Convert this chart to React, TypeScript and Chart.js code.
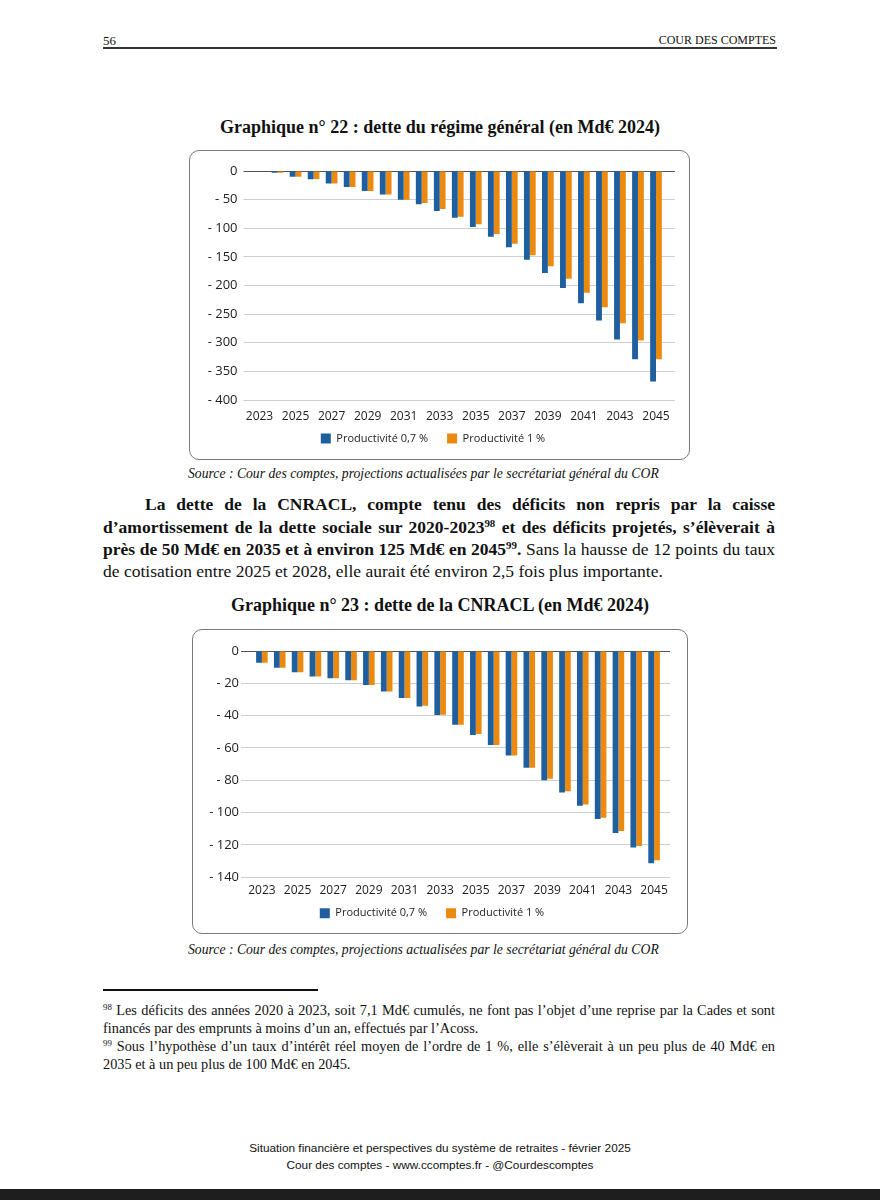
import React, { useEffect, useRef } from "react";
import { Chart, registerables } from "chart.js";

Chart.register(...registerables);

// ---------- DATA ----------
const years = [
  "2023", "2024", "2025", "2026", "2027", "2028", "2029", "2030", "2031", "2032", "2033", "2034",
  "2035", "2036", "2037", "2038", "2039", "2040", "2041", "2042", "2043", "2044", "2045",
];
const seriesNames = ["Productivité 0,7 %", "Productivité 1 %"];

// Graphique 22 : dette du régime général (Md€ 2024)
const regimeProd07 = [
  0, -3, -10, -14.5, -22, -28, -35, -41, -50, -58, -70, -81.5,
  -98, -115, -133, -155, -178, -204.5, -231, -261, -294.5, -329, -367.5,
];
const regimeProd1 = [
  0, -3, -10, -14, -22, -28, -35, -41, -50, -56, -66.5, -80,
  -93, -110, -127, -147, -166.5, -188, -212.5, -238, -266, -296, -329,
];
const regimeAxis = { min: -400, max: 0, step: 50 };

// Graphique 23 : dette de la CNRACL (Md€ 2024)
const cnraclProd07 = [
  -7.2, -10.3, -13.2, -15.7, -16.9, -18.1, -21, -25, -29, -34.4, -39.6, -45.6,
  -52, -58.1, -64.7, -72.2, -80, -87.6, -95.7, -103.9, -112.6, -121.6, -131.3,
];
const cnraclProd1 = [
  -7.2, -10.3, -13.2, -15.7, -16.9, -18.1, -21, -25, -29, -33.8, -39.4, -45.6,
  -51.3, -58.1, -64.7, -72.2, -79, -86.8, -95, -103.1, -111.3, -120.6, -129.5,
];
const cnraclAxis = { min: -140, max: 0, step: 20 };

// ---------- STYLE ----------
const BLUE = "#1f5f9e";
const ORANGE = "#ec890f";
const GRID = "#cfcfcf";
const ZERO = "#555555";
const TXT = "#222222";
const SANS = "'Open Sans', 'Noto Sans', sans-serif";
const SERIF = "'Liberation Serif', 'Times New Roman', serif";

type ChartProps = {
  left: number; top: number; width: number; height: number;
  a: number[]; b: number[];
  axis: { min: number; max: number; step: number };
  yWidth: number; leftTick: number; yPad: number; rightTick: number;
  padTop: number; padRight: number; padBottom: number;
  xHeight: number; xPad: number; legendPad: number;
};

function BarChart(p: ChartProps) {
  const ref = useRef<HTMLCanvasElement>(null);
  useEffect(() => {
    if (!ref.current) return;
    const gridColor = (ctx: any) => (ctx.tick && ctx.tick.value === 0 ? ZERO : GRID);
    const chart = new Chart(ref.current, {
      type: "bar",
      data: {
        labels: years,
        datasets: [
          { label: seriesNames[0], data: p.a, backgroundColor: BLUE, borderWidth: 0, categoryPercentage: 0.65, barPercentage: 1, yAxisID: "y" },
          { label: seriesNames[1], data: p.b, backgroundColor: ORANGE, borderWidth: 0, categoryPercentage: 0.65, barPercentage: 1, yAxisID: "y" },
        ],
      },
      options: {
        responsive: false,
        maintainAspectRatio: false,
        animation: false,
        layout: { padding: { top: p.padTop, right: p.padRight, bottom: p.padBottom, left: 0 } },
        plugins: {
          tooltip: { enabled: false },
          legend: {
            position: "bottom",
            labels: {
              boxWidth: 10, boxHeight: 10, padding: p.legendPad, color: TXT,
              font: { family: SANS, size: 11 },
              generateLabels: (c: any) => {
                const items = (Chart.defaults.plugins.legend.labels as any).generateLabels(c);
                if (items.length) items[0].text = items[0].text + "\u2002\u2002";
                return items;
              },
            },
          },
        },
        scales: {
          x: {
            grid: { display: false, drawTicks: false },
            border: { display: false },
            ticks: {
              autoSkip: false, maxRotation: 0, minRotation: 0, padding: p.xPad, color: TXT,
              font: { family: SANS, size: 12 },
              callback: (_v: any, i: number) => (i % 2 === 0 ? years[i] : ""),
            },
            afterFit: (s: any) => { s.height = p.xHeight; },
          },
          y: {
            min: p.axis.min, max: p.axis.max,
            border: { display: false },
            grid: { color: gridColor, lineWidth: 1, drawTicks: true, tickLength: p.leftTick },
            ticks: {
              stepSize: p.axis.step, padding: p.yPad, color: TXT,
              font: { family: SANS, size: 13 },
              callback: (v: any) => (v === 0 ? "0" : "- " + Math.abs(v)),
            },
            afterFit: (s: any) => { s.width = p.yWidth; },
          },
          y2: {
            type: "linear", position: "right",
            min: p.axis.min, max: p.axis.max,
            border: { display: false },
            grid: { color: gridColor, drawOnChartArea: false, drawTicks: true, tickLength: p.rightTick },
            ticks: { stepSize: p.axis.step, display: false },
            afterFit: (s: any) => { s.width = p.rightTick; },
          },
        },
      } as any,
    });
    return () => chart.destroy();
  }, []);
  return (
    <canvas
      ref={ref}
      width={p.width}
      height={p.height}
      style={{ position: "absolute", left: p.left, top: p.top, width: p.width, height: p.height }}
    />
  );
}

const abs = (s: React.CSSProperties): React.CSSProperties => ({ position: "absolute", ...s });

function TextLine(props: {
  cy: number; left?: number; width?: number; size: number; h?: number;
  justify?: boolean; center?: boolean; right?: boolean; bold?: boolean; italic?: boolean;
  family?: string; indent?: number; children: React.ReactNode;
}) {
  const h = props.h ?? Math.round(props.size * 1.3);
  const st: React.CSSProperties = {
    top: props.cy - h / 2,
    height: h,
    lineHeight: h + "px",
    fontSize: props.size,
    fontFamily: props.family ?? SERIF,
    fontWeight: props.bold ? "bold" : "normal",
    fontStyle: props.italic ? "italic" : "normal",
    color: "#111",
    whiteSpace: "nowrap",
  };
  if (props.center) {
    st.left = 0; st.width = 880; st.textAlign = "center";
  } else if (props.right) {
    st.right = 880 - (props.left ?? 775); st.textAlign = "right";
  } else {
    st.left = props.left ?? 103;
    if (props.justify) {
      st.width = props.width ?? 672;
      st.textAlign = "justify";
      (st as any).textAlignLast = "justify";
      st.textIndent = props.indent ?? 0;
    }
  }
  return <div style={abs(st)}>{props.children}</div>;
}

const Sup = ({ children }: { children: React.ReactNode }) => (
  <sup style={{ fontSize: "0.62em", lineHeight: 0, verticalAlign: "0.55em" }}>{children}</sup>
);

export default function App() {
  return (
    <div style={abs({ left: 0, top: 0, width: 880, height: 1200, background: "#fff", overflow: "hidden" })}>
      {/* header */}
      <TextLine cy={40} left={103} size={13}>56</TextLine>
      <TextLine cy={40} right left={776} size={12}>COUR DES COMPTES</TextLine>
      <div style={abs({ left: 103, top: 47, width: 674, height: 2, background: "#333" })} />

      {/* chart 22 */}
      <TextLine cy={127} center bold size={18}>
        Graphique n° 22 : dette du régime général (en Md€ 2024)
      </TextLine>
      <div style={abs({ left: 189, top: 150, width: 501, height: 310, boxSizing: "border-box", border: "1.5px solid #7a7a7a", borderRadius: 10 })} />
      <BarChart
        left={191} top={152} width={497} height={306}
        a={regimeProd07} b={regimeProd1} axis={regimeAxis}
        yWidth={59.5} leftTick={7} yPad={6} rightTick={10}
        padTop={19} padRight={13} padBottom={4} xHeight={25} xPad={9} legendPad={8}
      />
      <TextLine cy={474} left={188} italic size={13.7}>
        Source : Cour des comptes, projections actualisées par le secrétariat général du COR
      </TextLine>

      {/* paragraph */}
      <TextLine cy={504} justify indent={42} bold size={17.5}>
        La dette de la CNRACL, compte tenu des déficits non repris par la caisse
      </TextLine>
      <TextLine cy={527} justify bold size={17.5}>
        d’amortissement de la dette sociale sur 2020-2023<Sup>98</Sup> et des déficits projetés, s’élèverait à
      </TextLine>
      <TextLine cy={549} justify size={17.5}>
        <b>près de 50 Md€ en 2035 et à environ 125 Md€ en 2045<Sup>99</Sup>.</b> Sans la hausse de 12 points du taux
      </TextLine>
      <TextLine cy={571} size={17.5}>
        de cotisation entre 2025 et 2028, elle aurait été environ 2,5 fois plus importante.
      </TextLine>

      {/* chart 23 */}
      <TextLine cy={605} center bold size={18}>
        Graphique n° 23 : dette de la CNRACL (en Md€ 2024)
      </TextLine>
      <div style={abs({ left: 192, top: 629, width: 496, height: 305, boxSizing: "border-box", border: "1.5px solid #7a7a7a", borderRadius: 10 })} />
      <BarChart
        left={194} top={631} width={492} height={301}
        a={cnraclProd07} b={cnraclProd1} axis={cnraclAxis}
        yWidth={59} leftTick={12} yPad={2} rightTick={7}
        padTop={20} padRight={16} padBottom={3.2} xHeight={22.5} xPad={6} legendPad={8}
      />
      <TextLine cy={950} left={188} italic size={13.7}>
        Source : Cour des comptes, projections actualisées par le secrétariat général du COR
      </TextLine>

      {/* footnotes */}
      <div style={abs({ left: 103, top: 989, width: 215, height: 2, background: "#111" })} />
      <TextLine cy={1010} justify size={14.3}>
        <Sup>98</Sup> Les déficits des années 2020 à 2023, soit 7,1 Md€ cumulés, ne font pas l’objet d’une reprise par la Cades et sont
      </TextLine>
      <TextLine cy={1028} size={14.3}>
        financés par des emprunts à moins d’un an, effectués par l’Acoss.
      </TextLine>
      <TextLine cy={1046} justify size={14.3}>
        <Sup>99</Sup> Sous l’hypothèse d’un taux d’intérêt réel moyen de l’ordre de 1 %, elle s’élèverait à un peu plus de 40 Md€ en
      </TextLine>
      <TextLine cy={1064} size={14.3}>
        2035 et à un peu plus de 100 Md€ en 2045.
      </TextLine>

      {/* footer */}
      <TextLine cy={1148} center size={11.8} family="'Liberation Sans', Arial, sans-serif">
        Situation financière et perspectives du système de retraites - février 2025
      </TextLine>
      <TextLine cy={1165} center size={11.8} family="'Liberation Sans', Arial, sans-serif">
        Cour des comptes - www.ccomptes.fr - @Courdescomptes
      </TextLine>
      <div style={abs({ left: 0, top: 1189, width: 880, height: 11, background: "#1e1e1e" })} />
    </div>
  );
}
